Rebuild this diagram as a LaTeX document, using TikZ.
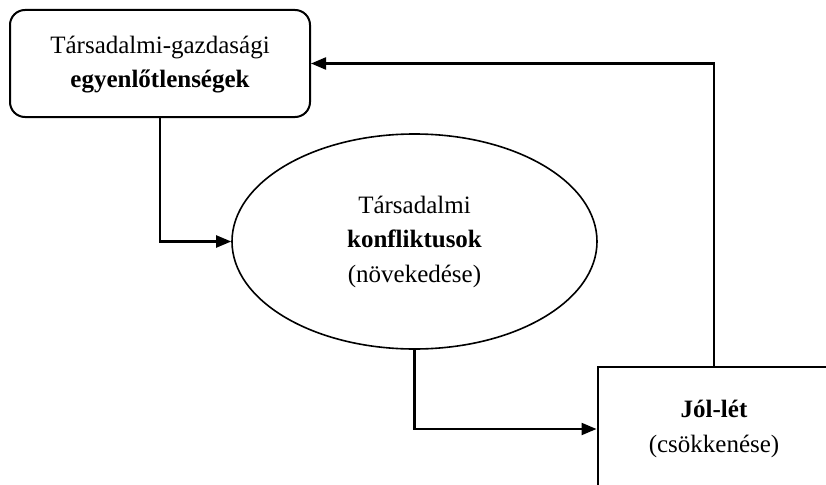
\documentclass[tikz,border=0pt]{standalone}
\usepackage{fontspec}
\setmainfont{Liberation Serif}
\usetikzlibrary{arrows.meta,shapes.geometric}
\begin{document}
\begin{tikzpicture}[x=1pt,y=-1pt,
  txt/.style={align=center,font=\fontsize{25}{34.5}\selectfont,inner sep=0pt},
  roundbox/.style={font=\fontsize{25}{34.5}\selectfont,inner sep=0pt,draw,line width=2pt,rounded corners=15pt,minimum width=300pt,minimum height=107pt},
  ellbox/.style={txt,draw,ellipse,line width=1.6pt,minimum width=365pt,minimum height=215pt},
  plainbox/.style={txt,draw,line width=2pt,minimum width=233pt,minimum height=124pt},
  conn/.style={line width=2.2pt,-{Triangle[length=15pt,width=12pt]}}]
\useasboundingbox (0,0) rectangle (826,484);
\clip (0,0) rectangle (826,484);
\fill[white] (0,0) rectangle (826,484);
\node[roundbox] (b1) at (160,63.5) {\raisebox{5pt}{\begin{tabular}{@{}c@{}}Társadalmi-gazdasági\\\textbf{egyenlőtlenségek}\end{tabular}}};
\node[ellbox] (e) at (414.5,241.5) {Társadalmi\\\textbf{konfliktusok}\\(növekedése)};
\node[plainbox] (b2) at (714,429) {\textbf{Jól-lét}\\(csökkenése)};
\draw[conn] (b1.south) |- (e.west);
\draw[conn] (e.south) |- (b2.west);
\draw[conn] (b2.north) |- (b1.east);
\end{tikzpicture}
\end{document}
